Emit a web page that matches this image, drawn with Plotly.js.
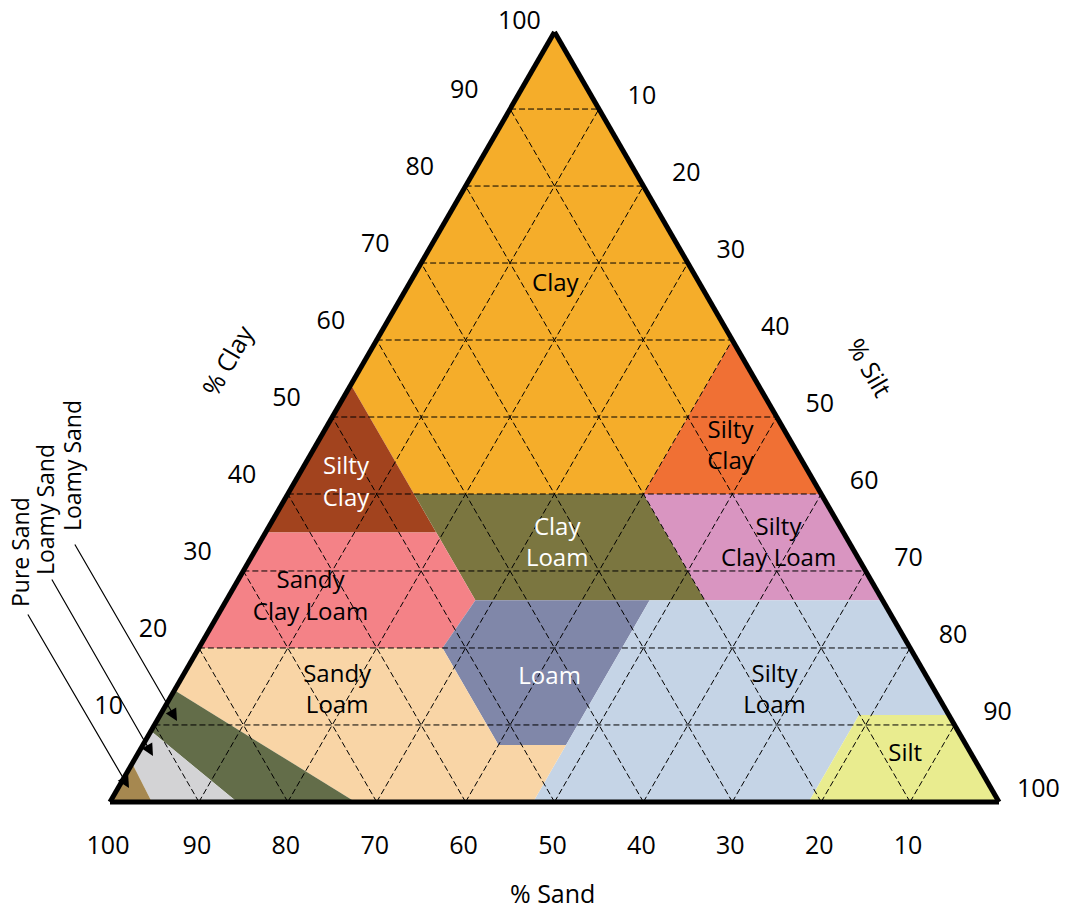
<!DOCTYPE html>
<html><head><meta charset="utf-8">
<script src="https://cdn.plot.ly/plotly-3.0.1.min.js"></script>
<style>html,body{margin:0;padding:0;background:#fff}#chart{width:1069px;height:913px}</style>
</head><body><div id="chart"></div>
<script>
// Region boundaries: a = % clay, c = % silt (sand = 100 - clay - silt)
const clayA = [100, 60, 40, 40, 54.2];
const clayC = [0, 40, 40, 14.2, 0];
const siltyClayRA = [60, 40, 40];
const siltyClayRC = [40, 60, 40];
const siltyClayLA = [54.2, 40, 35, 35];
const siltyClayLC = [0, 14.2, 19.2, 0];
const clayLoamA = [40, 40, 26.2, 26.2];
const clayLoamC = [14.2, 40, 53.8, 28];
const siltyClayLoamA = [40, 40, 26.2, 26.2];
const siltyClayLoamC = [40, 60, 73.8, 53.8];
const sandyClayLoamA = [35, 35, 26.2, 20, 20];
const sandyClayLoamC = [0, 19.2, 28, 27.4, 0];
const loamA = [26.2, 26.2, 7.4, 7.4, 20];
const loamC = [28, 47.6, 47.6, 40, 27.4];
const siltyLoamA = [26.2, 26.2, 11.3, 11.3, 0, 0];
const siltyLoamC = [47.6, 73.8, 88.7, 78.6, 78.6, 47.6];
const siltA = [11.3, 11.3, 0, 0];
const siltC = [78.6, 88.7, 100, 78.6];
const sandyLoamA = [20, 20, 7.4, 7.4, 0, 0, 14.5];
const sandyLoamC = [0, 27.4, 40, 47.6, 47.6, 27.6, 0];
const loamySandOuterA = [9.2, 14.5, 0, 0];
const loamySandOuterC = [0, 0, 27.6, 14.3];
const loamySandInnerA = [5, 9.2, 0, 0];
const loamySandInnerC = [0, 0, 14.3, 4.7];
const pureSandA = [0, 5, 0];
const pureSandC = [0, 0, 4.7];

// Region labels
const labelText = ['Clay', 'Silty<br>Clay', 'Silty<br>Clay', 'Clay<br>Loam', 'Silty<br>Clay Loam',
  'Sandy<br>Clay Loam', 'Loam', 'Sandy<br>Loam', 'Silty<br>Loam', 'Silt'];
const labelClay = [67.2, 46.0, 41.3, 33.4, 33.4, 26.5, 16.1, 14.3, 14.3, 6.1];
const labelSilt = [16.5, 46.8, 5.9, 33.6, 58.5, 9.3, 41.4, 18.4, 67.6, 86.4];
const labelColor = ['#000', '#000', '#fff', '#fff', '#000', '#000', '#fff', '#000', '#000', '#000'];

// Tick values / labels (grid every 10 %)
const tickValues = [10, 20, 30, 40, 50, 60, 70, 80, 90, 100];
const tickLabels = ['10', '20', '30', '40', '50', '60', '70', '80', '90', '100'];
const gridValues = [10, 20, 30, 40, 50, 60, 70, 80, 90];

const regions = [
  [clayA, clayC, '#F5AD2A'],
  [siltyClayRA, siltyClayRC, '#F07034'],
  [siltyClayLA, siltyClayLC, '#A2431E'],
  [clayLoamA, clayLoamC, '#7B7640'],
  [siltyClayLoamA, siltyClayLoamC, '#D995C1'],
  [sandyClayLoamA, sandyClayLoamC, '#F48287'],
  [loamA, loamC, '#8087A9'],
  [siltyLoamA, siltyLoamC, '#C5D4E6'],
  [siltA, siltC, '#E9EC8F'],
  [sandyLoamA, sandyLoamC, '#F9D5A6'],
  [loamySandOuterA, loamySandOuterC, '#636D49'],
  [loamySandInnerA, loamySandInnerC, '#D3D3D5'],
  [pureSandA, pureSandC, '#A68850']
];

const FONT = '"Open Sans", sans-serif';
const traces = regions.map(r => ({
  type: 'scatterternary', mode: 'lines', a: r[0], c: r[1],
  fill: 'toself', fillcolor: r[2], line: {width: 0, color: r[2]},
  hoverinfo: 'skip', showlegend: false, cliponaxis: false
}));

// dashed grid lines drawn above the filled regions
const gA = [], gC = [];
gridValues.forEach(v => {
  gA.push(v, v, null); gC.push(0, 100 - v, null);          // constant clay
  gA.push(0, 100 - v, null); gC.push(v, v, null);          // constant silt
  gA.push(0, 100 - v, null); gC.push(100 - v, 0, null);    // constant sand
});
traces.push({
  type: 'scatterternary', mode: 'lines', a: gA, c: gC, connectgaps: false,
  line: {color: '#000', width: 1, dash: '6px,3px'},
  hoverinfo: 'skip', showlegend: false
});

traces.push({
  type: 'scatterternary', mode: 'text', a: labelClay, c: labelSilt, text: labelText,
  textfont: {family: FONT, size: 24, color: labelColor},
  hoverinfo: 'skip', showlegend: false
});

const L = 110, T = 32, W = 889, H = 770;
const px = x => (x - L) / W;
const py = y => (T + H - y) / H;
const NB = '\u00a0';

const axisBase = {
  min: 0, tickmode: 'array',
  ticks: 'outside', tickcolor: 'rgba(0,0,0,0)',
  tickfont: {family: FONT, size: 25, color: '#000'},
  showgrid: false,
  showline: true, linecolor: '#000', linewidth: 5,
  layer: 'above traces', title: {text: ''}
};
// clay axis: labels 10..90 (the 100 at the apex is placed as an annotation)
const aAxis = Object.assign({}, axisBase, {
  ticklen: 26, tickvals: tickValues.slice(0, 9),
  ticktext: tickLabels.slice(0, 9).map(t => t + '<br>' + NB)
});
const bAxis = Object.assign({}, axisBase, {
  ticklen: 22, tickvals: tickValues,
  ticktext: tickLabels.map(t => t + NB + NB + NB + NB)
});
const cAxis = Object.assign({}, axisBase, {
  ticklen: 12, tickvals: tickValues,
  ticktext: tickLabels.map(t => (t === '100' ? NB : NB + NB + '\u2006') + t)
});

const arrows = [
  [129, 788, 27, 613],
  [153, 756, 51, 578],
  [177, 721, 74, 543]
].map(a => ({
  xref: 'paper', yref: 'paper', x: px(a[0]), y: py(a[1]),
  axref: 'pixel', ayref: 'pixel', ax: a[2] - a[0], ay: a[3] - a[1],
  text: '', showarrow: true, arrowhead: 2, arrowsize: 2, arrowwidth: 1.2, arrowcolor: '#000'
}));

const textAnn = (t, x, y, ang, sz) => ({
  xref: 'paper', yref: 'paper', x: px(x), y: py(y), text: t, showarrow: false,
  textangle: ang, xanchor: 'center', yanchor: 'middle',
  font: {family: FONT, size: sz, color: '#000'}
});

const layout = {
  width: 1069, height: 913,
  margin: {l: L, r: 1069 - L - W, t: T, b: 913 - T - H},
  paper_bgcolor: '#fff',
  font: {family: FONT},
  showlegend: false,
  ternary: {
    sum: 100, bgcolor: '#fff',
    domain: {x: [0, 1], y: [0, 1]},
    aaxis: aAxis, baxis: bAxis, caxis: cAxis
  },
  annotations: arrows.concat([
    textAnn(tickLabels[9], 519, 19, 0, 25),
    textAnn('% Clay', 227, 360, -60, 25),
    textAnn('% Silt', 870, 367, 60, 25),
    textAnn('% Sand', 552, 893, 0, 25),
    textAnn('Pure Sand', 20, 552, -90, 23),
    textAnn('Loamy Sand', 45, 510, -90, 23),
    textAnn('Loamy Sand', 72, 466, -90, 23)
  ])
};

Plotly.newPlot('chart', traces, layout, {displayModeBar: false, staticPlot: true});
</script>
</body></html>
